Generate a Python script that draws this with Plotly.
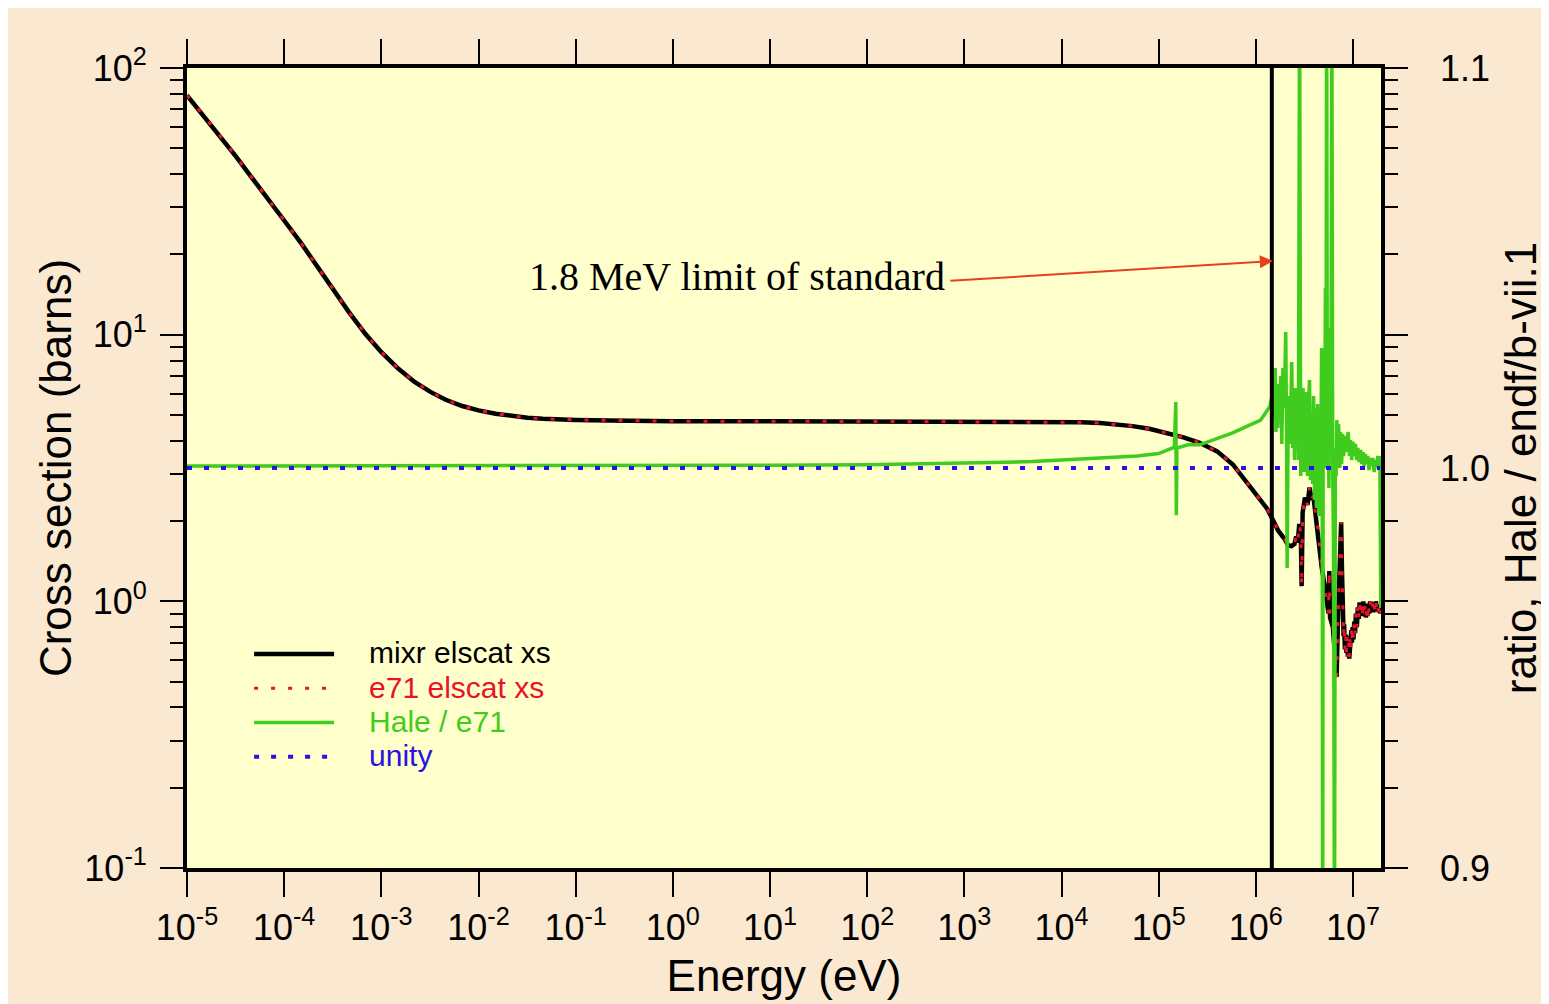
import math
import plotly.graph_objects as go

# ---------------- data ----------------
xs_energy = [1.0e-5, 1.5e-5, 2.2e-5, 3.2e-5, 4.6e-5, 6.8e-5, 1.0e-4, 1.5e-4, 2.2e-4,
             3.2e-4, 4.6e-4, 6.8e-4, 1.0e-3, 1.5e-3, 2.2e-3, 3.2e-3, 4.6e-3, 6.8e-3,
             1.0e-2, 1.5e-2, 2.2e-2, 3.2e-2, 4.6e-2, 6.8e-2, 1.0e-1, 2.2e-1, 5.0e-1,
             1.0, 1.0e1, 1.0e2, 1.0e3, 5.0e3, 1.0e4, 1.6e4, 2.5e4, 4.0e4, 5.4e4, 8.0e4,
             1.2e5, 1.8e5, 2.6e5, 4.0e5, 5.8e5, 8.6e5, 1.1e6, 1.3e6, 1.5e6, 1.7e6,
             1.98e6, 2.15e6, 2.33e6, 2.5e6, 2.6e6, 2.69e6, 2.8e6, 2.9e6, 2.96e6, 3.03e6,
             3.2e6, 3.4e6, 3.57e6, 3.75e6, 3.9e6, 4.05e6, 4.22e6, 4.4e6, 4.6e6, 4.75e6,
             5.0e6, 5.3e6, 5.6e6, 5.7e6, 5.8e6, 6.2e6, 6.5e6, 6.78e6, 7.0e6, 7.3e6,
             7.55e6, 7.7e6, 7.85e6, 8.0e6, 8.1e6, 8.25e6, 8.4e6, 8.55e6, 8.7e6, 8.85e6,
             9.0e6, 9.15e6, 9.3e6, 9.45e6, 9.6e6, 9.75e6, 9.91e6, 1.01e7, 1.03e7, 1.05e7,
             1.07e7, 1.095e7, 1.12e7, 1.145e7, 1.17e7, 1.195e7, 1.22e7, 1.25e7, 1.28e7,
             1.305e7, 1.33e7, 1.355e7, 1.38e7, 1.405e7, 1.43e7, 1.465e7, 1.5e7, 1.545e7,
             1.59e7, 1.62e7, 1.65e7, 1.685e7, 1.72e7, 1.76e7, 1.8e7, 1.84e7, 1.88e7,
             1.92e7, 1.95e7, 2.0e7]
mixr_xs = [79.0, 66.0, 55.5, 46.5, 39.0, 32.5, 26.8, 22.0, 18.0,
           14.7, 12.2, 10.1, 8.6, 7.45, 6.65, 6.1, 5.7, 5.4,
           5.2, 5.05, 4.95, 4.88, 4.84, 4.81, 4.79, 4.77, 4.75,
           4.74, 4.74, 4.73, 4.73, 4.72, 4.71, 4.69, 4.66, 4.60, 4.54, 4.44,
           4.29, 4.12, 3.94, 3.65, 3.26, 2.70, 2.42, 2.23, 2.02, 1.84,
           1.71, 1.62, 1.61, 1.64, 1.75, 1.66, 1.95, 1.80, 1.14, 2.15,
           2.45, 2.30, 2.67, 2.40, 2.50, 2.20, 2.08, 1.75, 1.50, 1.35,
           1.20, 1.05, 0.90, 1.30, 0.87, 0.80, 0.62, 0.52, 0.85, 1.40,
           1.98, 1.30, 0.95, 0.74, 0.82, 0.66, 0.75, 0.64, 0.74, 0.62,
           0.70, 0.61, 0.72, 0.65, 0.78, 0.70, 0.80, 0.72, 0.84, 0.76,
           0.90, 0.80, 0.95, 0.86, 0.99, 0.88, 0.97, 0.89, 1.00,
           0.88, 0.96, 0.87, 0.95, 0.88, 0.98, 0.90, 1.00, 0.93,
           0.99, 0.91, 0.97, 0.92, 1.00, 0.92, 0.97, 0.91, 0.97,
           0.90, 0.94, 0.92]
e71_xs = [79.0, 66.0, 55.5, 46.5, 39.0, 32.5, 26.8, 22.0, 18.0,
          14.7, 12.2, 10.1, 8.6, 7.45, 6.65, 6.1, 5.7, 5.4,
          5.2, 5.05, 4.95, 4.88, 4.84, 4.81, 4.79, 4.77, 4.75,
          4.74, 4.74, 4.73, 4.73, 4.72, 4.71, 4.69, 4.66, 4.60, 4.54, 4.44,
          4.29, 4.12, 3.94, 3.65, 3.26, 2.70, 2.42, 2.23, 2.02, 1.84,
          1.71, 1.62, 1.61, 1.64, 1.75, 1.66, 1.95, 1.80, 1.14, 2.15,
          2.45, 2.30, 2.67, 2.40, 2.50, 2.20, 2.08, 1.75, 1.50, 1.35,
          1.20, 1.05, 0.90, 1.30, 0.87, 0.80, 0.62, 0.52, 0.85, 1.40,
          1.98, 1.30, 0.95, 0.74, 0.82, 0.66, 0.75, 0.64, 0.74, 0.62,
          0.70, 0.61, 0.72, 0.65, 0.78, 0.70, 0.80, 0.72, 0.84, 0.76,
          0.90, 0.80, 0.95, 0.86, 0.99, 0.88, 0.97, 0.89, 1.00,
          0.88, 0.96, 0.87, 0.95, 0.88, 0.98, 0.90, 1.00, 0.93,
          0.99, 0.91, 0.97, 0.92, 1.00, 0.92, 0.97, 0.91, 0.97,
          0.90, 0.94, 0.92]

ratio_energy = [1.0e-5, 1.0e-3, 1.0e-1, 1.0e1, 1.0e2, 1.0e3, 5.0e3, 1.0e4, 3.0e4, 6.0e4,
                1.0e5, 1.3e5, 1.45e5, 1.5e5, 1.52e5, 1.54e5, 1.7e5, 2.0e5, 2.64e5, 5.77e5,
                1.12e6, 1.39e6, 1.45e6, 1.50e6, 1.55e6, 1.58e6, 1.61e6, 1.64e6, 1.68e6,
                1.72e6, 1.76e6, 1.80e6, 1.85e6, 1.90e6, 1.96e6, 2.03e6, 2.07e6, 2.10e6,
                2.14e6, 2.20e6, 2.25e6, 2.30e6, 2.34e6, 2.40e6, 2.45e6, 2.50e6, 2.55e6,
                2.62e6, 2.69e6, 2.74e6, 2.78e6, 2.82e6, 2.86e6, 2.90e6, 2.95e6, 3.00e6,
                3.06e6, 3.12e6, 3.18e6, 3.25e6, 3.32e6, 3.40e6, 3.48e6, 3.57e6, 3.65e6,
                3.75e6, 3.84e6, 3.93e6, 4.02e6, 4.10e6, 4.20e6, 4.32e6, 4.44e6, 4.55e6,
                4.65e6, 4.75e6, 4.82e6, 4.87e6, 4.93e6, 5.00e6, 5.10e6, 5.20e6, 5.28e6,
                5.35e6, 5.45e6, 5.55e6, 5.65e6, 5.80e6, 5.92e6, 6.05e6, 6.18e6, 6.30e6,
                6.45e6, 6.58e6, 6.70e6, 6.82e6, 6.94e6, 7.10e6, 7.30e6, 7.45e6, 7.63e6,
                7.80e6, 8.00e6, 8.30e6, 8.59e6, 8.90e6, 9.20e6, 9.45e6, 9.68e6, 1.00e7,
                1.03e7, 1.06e7, 1.09e7, 1.12e7, 1.16e7, 1.20e7, 1.23e7, 1.27e7, 1.30e7,
                1.34e7, 1.38e7, 1.42e7, 1.46e7, 1.50e7, 1.55e7, 1.60e7, 1.65e7, 1.70e7,
                1.75e7, 1.80e7, 1.85e7, 1.89e7, 1.93e7]
hale_ratio = [1.0005, 1.0005, 1.0006, 1.0007, 1.0008, 1.0012, 1.0016, 1.0020, 1.0025, 1.0030,
              1.0036, 1.0048, 1.0052, 1.0165, 0.9882, 1.0050, 1.0053, 1.0058, 1.0058, 1.0088,
              1.0120, 1.0153, 1.0175, 1.0130, 1.0200, 1.0250, 1.0090, 1.0180, 1.0100,
              1.0210, 1.0120, 1.0230, 1.0060, 1.0250, 1.0150, 1.0340, 1.0100, 0.9750,
              1.0050, 1.0180, 1.0060, 1.0200, 1.0265, 1.0050, 1.0150, 1.0020, 1.0200,
              1.0080, 1.0160, 1.0020, 1.0520, 1.1200, 1.0500, 0.9980, 1.0180, 1.0030,
              1.0200, 0.9990, 1.0150, 1.0010, 1.0190, 0.9980, 1.0160, 1.0220, 0.9970,
              1.0120, 0.9960, 1.0180, 0.9920, 1.0150, 0.9900, 1.0160, 0.9880, 1.0120,
              0.9950, 1.0300, 1.0000, 0.8800, 1.0100, 1.0300, 1.0000, 1.0450, 1.0100,
              1.1200, 1.0000, 1.0150, 0.9950, 1.0350, 1.0050, 1.1200, 1.0000, 0.9800,
              0.8800, 1.0050, 0.9980, 1.0120, 1.0020, 1.0110, 1.0000, 1.0090, 1.0010,
              1.0085, 1.0030, 1.0080, 1.0040, 1.0090, 1.0030, 1.0070, 1.0020, 1.0065,
              1.0030, 1.0060, 1.0020, 1.0050, 1.0015, 1.0045, 1.0010, 1.0040, 1.0005,
              1.0035, 1.0010, 1.0030, 0.9995, 1.0025, 1.0005, 1.0025, 0.9990, 1.0020,
              1.0000, 1.0030, 0.9995, 1.0030, 0.9650]

unity_energy = [1.0e-5, 1.9e7]
unity_ratio = [1.0, 1.0]

limit_energy = [1.46e6, 1.46e6]
limit_ratio = [0.9, 1.1]

x_tickvals = [1e-5, 1e-4, 1e-3, 1e-2, 1e-1, 1e0, 1e1, 1e2, 1e3, 1e4, 1e5, 1e6, 1e7]
x_ticktext = ["10<sup>-5</sup>", "10<sup>-4</sup>", "10<sup>-3</sup>", "10<sup>-2</sup>",
              "10<sup>-1</sup>", "10<sup>0</sup>", "10<sup>1</sup>", "10<sup>2</sup>",
              "10<sup>3</sup>", "10<sup>4</sup>", "10<sup>5</sup>", "10<sup>6</sup>",
              "10<sup>7</sup>"]
y_tickvals = [0.1, 1, 10, 100]
y_ticktext = ["10<sup>-1</sup>", "10<sup>0</sup>", "10<sup>1</sup>", "10<sup>2</sup>"]
y_minorvals = [0.2, 0.3, 0.4, 0.5, 0.6, 0.7, 0.8, 0.9,
               2, 3, 4, 5, 6, 7, 8, 9,
               20, 30, 40, 50, 60, 70, 80, 90]
y2_tickvals = [0.9, 1.0, 1.1]
y2_ticktext = ["0.9", "1.0", "1.1"]

# ---------------- styling ----------------
SANS = "Liberation Sans, Arial, Helvetica, sans-serif"
SERIF = "Liberation Serif, Times New Roman, serif"
BLACK = "#000000"
RED = "#e8122c"
GREEN = "#3fcc1e"
BLUE = "#2c12e0"
ARROW = "#e8401e"
OUTER = "#fae8d0"
PLOTBG = "#ffffcc"

# page body adds an 8px white margin on the left and top
W, H = 1541, 996
ML, MT = 179, 60
PW, PH = 1194, 800
MR, MB = W - ML - PW, H - MT - PH


def legend_name(txt, color):
    return '<span style="font-size:30px;color:%s">\u2003%s</span>' % (color, txt)


fig = go.Figure()
fig.add_trace(go.Scatter(x=xs_energy, y=mixr_xs, mode="lines",
                         line=dict(color=BLACK, width=4.5),
                         name=legend_name("mixr elscat xs", BLACK)))
fig.add_trace(go.Scatter(x=xs_energy, y=e71_xs, mode="lines",
                         line=dict(color=RED, width=3, dash="4px,13px"),
                         name=legend_name("e71 elscat xs", RED)))
fig.add_trace(go.Scatter(x=ratio_energy, y=hale_ratio, mode="lines", yaxis="y2",
                         line=dict(color=GREEN, width=3.5),
                         name=legend_name("Hale / e71", GREEN)))
fig.add_trace(go.Scatter(x=unity_energy, y=unity_ratio, mode="lines", yaxis="y2",
                         line=dict(color=BLUE, width=4, dash="5px,12px"),
                         name=legend_name("unity", BLUE)))
fig.add_trace(go.Scatter(x=limit_energy, y=limit_ratio, mode="lines", yaxis="y2",
                         line=dict(color=BLACK, width=4), showlegend=False,
                         hoverinfo="skip"))

# annotation text + arrow (log axes: annotation coords in log10 units)
fig.add_annotation(x=2.82, y=1.217, xref="x", yref="y", showarrow=False,
                   text="1.8 MeV limit of standard", xanchor="right", yanchor="middle",
                   font=dict(family=SERIF, size=40, color=BLACK))
fig.add_annotation(x=6.175, y=math.log10(18.9), xref="x", yref="y",
                   ax=2.84, ay=math.log10(15.9), axref="x", ayref="y",
                   text="", showarrow=True, arrowhead=2, arrowsize=1.3,
                   arrowwidth=2, arrowcolor=ARROW, standoff=0, startstandoff=0)

fig.update_layout(
    width=W, height=H,
    margin=dict(l=ML, r=MR, t=MT, b=MB, pad=0),
    paper_bgcolor=OUTER,
    plot_bgcolor=PLOTBG,
    showlegend=True,
    legend=dict(x=0.052, y=0.295, xanchor="left", yanchor="top",
                bgcolor="rgba(0,0,0,0)", borderwidth=0,
                font=dict(family=SANS, size=24, color=BLACK),
                itemwidth=80, tracegroupgap=0),
    xaxis=dict(type="log", range=[-5, 7.288],
               tickmode="array", tickvals=x_tickvals, ticktext=x_ticktext,
               ticks="outside", ticklen=25, tickwidth=2, tickcolor=BLACK,
               showline=True, linewidth=4, linecolor=BLACK, mirror="allticks",
               showgrid=False, zeroline=False,
               tickfont=dict(family=SANS, size=36, color=BLACK),
               title=dict(text="Energy (eV)", font=dict(family=SANS, size=44, color=BLACK),
                          standoff=14)),
    yaxis=dict(type="log", range=[-1, 2],
               tickmode="array", tickvals=y_tickvals, ticktext=y_ticktext,
               ticks="outside", ticklen=23, tickwidth=2, tickcolor=BLACK,
               minor=dict(tickmode="array", tickvals=y_minorvals, ticks="outside",
                          ticklen=13, tickwidth=2, tickcolor=BLACK, showgrid=False),
               showline=True, linewidth=4, linecolor=BLACK, mirror="allticks",
               showgrid=False, zeroline=False,
               ticklabelstandoff=6,
               tickfont=dict(family=SANS, size=36, color=BLACK),
               title=dict(text="Cross section (barns)",
                          font=dict(family=SANS, size=44, color=BLACK), standoff=0)),
    yaxis2=dict(overlaying="y", side="right", range=[0.9, 1.1],
                tickmode="array", tickvals=y2_tickvals, ticktext=y2_ticktext,
                ticks="", showline=False, showgrid=False, zeroline=False,
                ticklabelstandoff=58,
                tickfont=dict(family=SANS, size=36, color=BLACK),
                title=dict(text="ratio, Hale / endf/b-vii.1",
                           font=dict(family=SANS, size=44, color=BLACK), standoff=16)),
)

fig.write_html("out.html")
